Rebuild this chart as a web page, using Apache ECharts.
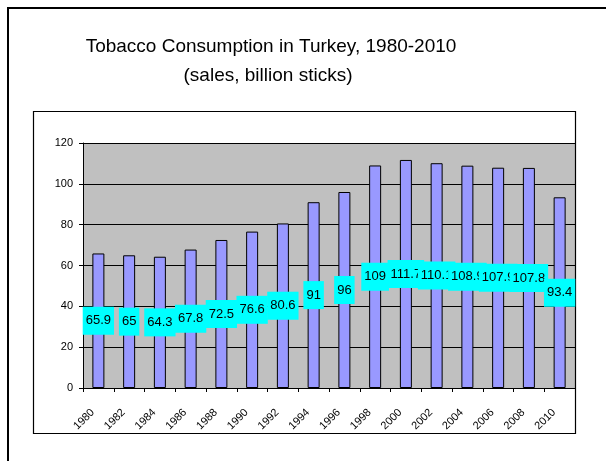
<!DOCTYPE html>
<html>
<head>
<meta charset="utf-8">
<script src="https://cdn.jsdelivr.net/npm/echarts@6/dist/echarts.min.js"></script>
<style>
html,body{margin:0;padding:0;background:#fff;}
#chart{width:606px;height:461px;}
</style>
</head>
<body>
<div id="chart"></div>
<script>
const years = ['1980','1982','1984','1986','1988','1990','1992','1994','1996','1998','2000','2002','2004','2006','2008','2010'];
const sales = [65.9, 65, 64.3, 67.8, 72.5, 76.6, 80.6, 91, 96, 109, 111.7, 110.1, 108.9, 107.9, 107.8, 93.4];
const yTicks = { min: 0, max: 120, interval: 20 };
const titleLines = ['Tobacco Consumption in Turkey, 1980-2010', '(sales, billion sticks)'];

const chart = echarts.init(document.getElementById('chart'), null, { renderer: 'canvas' });
chart.setOption({
  animation: false,
  backgroundColor: '#fff',
  graphic: [
    { type: 'rect', shape: { x: 8, y: 8, width: 700, height: 600 }, style: { fill: 'none', stroke: '#000', lineWidth: 2 }, z: 0 },
    { type: 'rect', shape: { x: 33.5, y: 111.5, width: 542, height: 322 }, style: { fill: 'none', stroke: '#000', lineWidth: 1.2 }, z: 0 },
    { type: 'text', x: 271, y: 37, style: { text: titleLines[0], textAlign: 'center', font: '19px "Liberation Sans", Arial, sans-serif', fill: '#000' } },
    { type: 'text', x: 268, y: 66, style: { text: titleLines[1], textAlign: 'center', font: '19px "Liberation Sans", Arial, sans-serif', fill: '#000' } }
  ],
  grid: {
    left: 83, right: 31, top: 143, bottom: 73,
    show: true, backgroundColor: '#C0C0C0', borderWidth: 0
  },
  xAxis: {
    type: 'category',
    data: years,
    boundaryGap: true,
    axisLine: { lineStyle: { color: '#000', width: 1 } },
    axisTick: { show: true, alignWithLabel: false, length: 4, lineStyle: { color: '#000' } },
    axisLabel: { interval: 0, rotate: 45, margin: 17, padding: [0, 8, 0, 0], color: '#000', fontSize: 11, fontFamily: '"Liberation Sans", Arial, sans-serif' },
    splitLine: { show: false }
  },
  yAxis: {
    type: 'value',
    min: yTicks.min, max: yTicks.max, interval: yTicks.interval,
    axisLine: { show: true, lineStyle: { color: '#000', width: 1 } },
    axisTick: { show: true, length: 4, lineStyle: { color: '#000' } },
    axisLabel: { margin: 10, color: '#000', fontSize: 11, fontFamily: '"Liberation Sans", Arial, sans-serif' },
    splitLine: { show: true, lineStyle: { color: '#000', width: 1 } }
  },
  series: [{
    type: 'bar',
    data: sales,
    barWidth: 12,
    itemStyle: { color: '#9999FF', borderColor: '#000', borderWidth: 1 },
    label: {
      show: true,
      position: 'inside',
      color: '#000',
      fontSize: 13,
      lineHeight: 14,
      fontFamily: '"Liberation Sans", Arial, sans-serif',
      backgroundColor: '#00FFFF',
      padding: [7, 3]
    }
  }]
});
</script>
</body>
</html>
